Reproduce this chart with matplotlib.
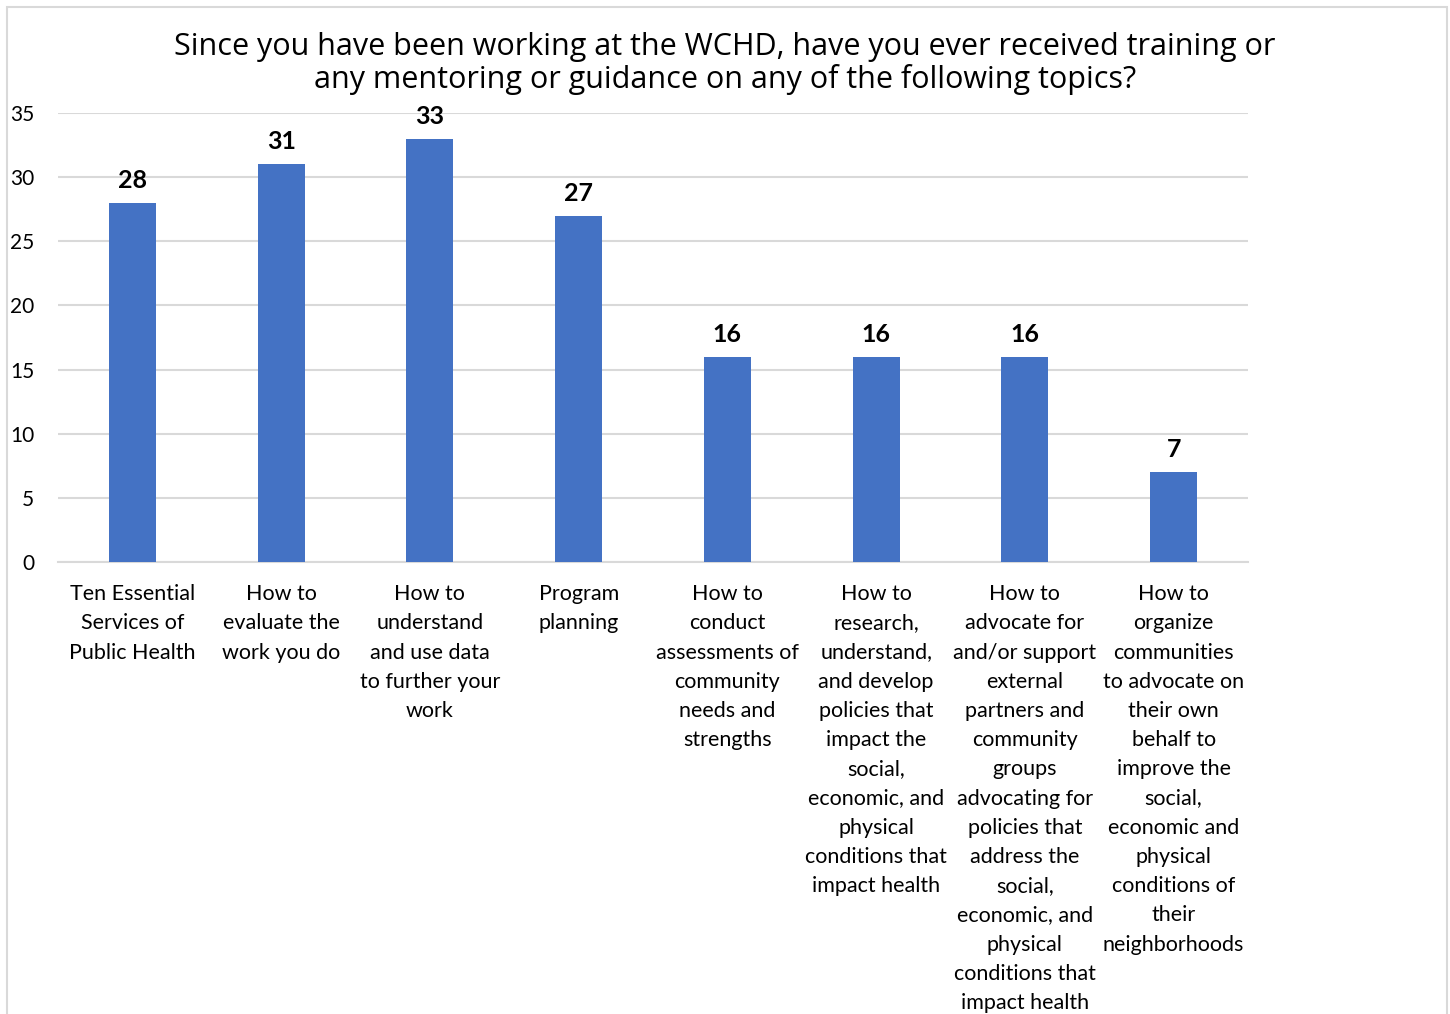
import numpy as np
import matplotlib.pyplot as plt
from matplotlib.patches import Rectangle

# Survey: training / mentoring topics received at WCHD
topics = [
    'Ten Essential\nServices of\nPublic Health',
    'How to\nevaluate the\nwork you do',
    'How to\nunderstand\nand use data\nto further your\nwork',
    'Program\nplanning',
    'How to\nconduct\nassessments of\ncommunity\nneeds and\nstrengths',
    'How to\nresearch,\nunderstand,\nand develop\npolicies that\nimpact the\nsocial,\neconomic, and\nphysical\nconditions that\nimpact health',
    'How to\nadvocate for\nand/or support\nexternal\npartners and\ncommunity\ngroups\nadvocating for\npolicies that\naddress the\nsocial,\neconomic, and\nphysical\nconditions that\nimpact health',
    'How to\norganize\ncommunities\nto advocate on\ntheir own\nbehalf to\nimprove the\nsocial,\neconomic and\nphysical\nconditions of\ntheir\nneighborhoods',
]
counts = [28, 31, 33, 27, 16, 16, 16, 7]
yticks = [0, 5, 10, 15, 20, 25, 30, 35]
title = ('Since you have been working at the WCHD, have you ever received training or\n'
         'any mentoring or guidance on any of the following topics?')

bar_color = '#4472C4'
grid_color = '#D9D9D9'

fig = plt.figure(figsize=(14.5, 10.14), dpi=100)
ax = fig.add_axes([0.04, 0.4458, 0.8207, 0.4428])

x = np.arange(len(topics))
bars = ax.bar(x, counts, width=0.316, color=bar_color, zorder=3)
for xi, v in zip(x, counts):
    ax.text(xi, v + 0.85, str(v), ha='center', va='bottom', fontsize=18,
            fontweight='bold', family='Lato', color='black')

ax.set_xlim(-0.5, len(topics) - 0.5)
ax.set_ylim(0, 35)
ax.set_yticks(yticks)
ax.set_yticklabels([str(t) for t in yticks], fontsize=15, family='Lato')
ax.set_xticks(x)
ax.set_xticklabels(topics, fontsize=15.5, family='Lato', linespacing=1.575, va='top')
ax.tick_params(axis='both', length=0)
ax.tick_params(axis='x', pad=16)
ax.tick_params(axis='y', pad=17)
ax.yaxis.grid(True, color=grid_color, linewidth=1.5, zorder=0)
for s in ['top', 'right', 'left']:
    ax.spines[s].set_visible(False)
ax.spines['bottom'].set_color(grid_color)
ax.spines['bottom'].set_linewidth(1.5)

fig.text(0.5, 0.968, title, ha='center', va='top', fontsize=22,
         family='Open Sans', linespacing=1.07)

# chart frame
fig.patches.append(Rectangle((7 / 1450, -0.05), 1440 / 1450, 1.05 - 7 / 1014,
                             transform=fig.transFigure, fill=False,
                             edgecolor='#D9D9D9', linewidth=1.5))

fig.savefig('out.png', dpi=100)
